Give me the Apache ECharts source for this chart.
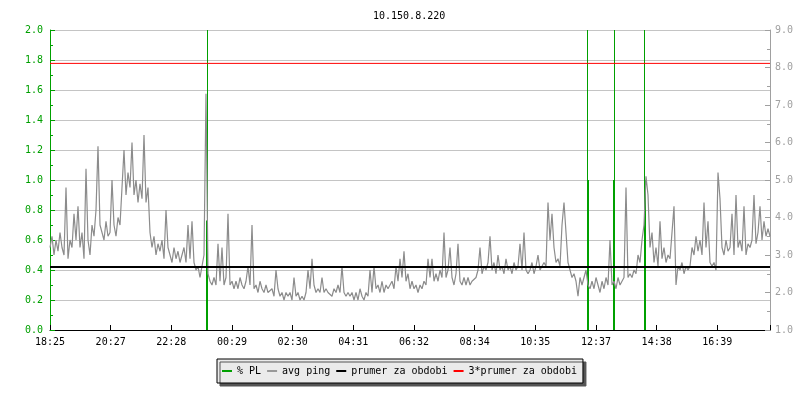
<!DOCTYPE html>
<html>
<head>
<meta charset="utf-8">
<script src="https://cdn.jsdelivr.net/npm/echarts@6/dist/echarts.min.js"></script>
<style>
  html, body { margin: 0; padding: 0; background: #fff; }
  #chart { width: 800px; height: 400px; }
</style>
</head>
<body>
<div id="chart"></div>
<script>
// x values are seconds since 18:25
const tickLabels = ['18:25', '20:27', '22:28', '00:29', '02:30', '04:31', '06:32', '08:34', '10:35', '12:37', '14:38', '16:39']
const tickStep = 7280
const rangeEnd = 86400

// avg ping (ms), one sample every 4 minutes
const pingStep = 240
const avgPing = [
  3.2, 3.5, 3.0, 3.4, 3.1, 3.6, 3.2, 3.0, 4.8, 2.9,
  3.4, 3.2, 4.1, 3.4, 4.3, 3.2, 3.6, 2.9, 5.3, 3.4,
  3.0, 3.8, 3.5, 4.2, 5.9, 3.8, 3.6, 3.4, 3.9, 3.5,
  3.6, 5.0, 3.8, 3.5, 4.0, 3.8, 4.8, 5.8, 4.6, 5.2,
  4.8, 6.0, 4.6, 5.0, 4.4, 4.9, 4.5, 6.2, 4.4, 4.8,
  3.6, 3.2, 3.5, 3.0, 3.3, 3.1, 3.4, 2.9, 4.2, 3.2,
  3.0, 2.8, 3.2, 2.9, 3.1, 2.8, 3.0, 3.2, 2.8, 3.8,
  2.9, 3.9, 2.8, 2.6, 2.7, 2.4, 2.7, 3.0, 7.3, 2.5,
  2.3, 2.2, 2.4, 2.2, 3.3, 2.3, 3.2, 2.2, 2.4, 4.1,
  2.2, 2.3, 2.1, 2.3, 2.1, 2.4, 2.2, 2.1, 2.3, 2.7,
  2.2, 3.8, 2.1, 2.2, 2.0, 2.3, 2.1, 2.0, 2.2, 2.0,
  2.0, 2.1, 1.9, 2.6, 2.1, 1.9, 2.0, 1.8, 2.0, 1.9,
  2.0, 1.8, 2.4, 1.9, 2.0, 1.8, 1.9, 1.8, 2.0, 2.6,
  2.1, 2.9, 2.2, 2.0, 2.1, 2.0, 2.4, 2.0, 2.1, 2.0,
  2.0, 1.9, 2.1, 2.0, 2.2, 2.0, 2.7, 2.0, 1.9, 2.0,
  1.9, 2.0, 1.8, 2.0, 1.8, 2.1, 1.9, 1.8, 2.0, 1.9,
  2.6, 2.0, 2.7, 2.1, 2.2, 2.0, 2.3, 2.0, 2.2, 2.1,
  2.2, 2.3, 2.1, 2.7, 2.3, 2.9, 2.4, 3.1, 2.3, 2.5,
  2.1, 2.3, 2.1, 2.2, 2.0, 2.2, 2.1, 2.3, 2.2, 2.9,
  2.4, 2.9, 2.3, 2.5, 2.3, 2.6, 2.4, 3.6, 2.4, 2.6,
  3.2, 2.4, 2.2, 2.5, 3.3, 2.3, 2.2, 2.4, 2.2, 2.4,
  2.2, 2.3, 2.3, 2.4, 2.6, 3.2, 2.5, 2.7, 2.6, 2.8,
  3.5, 2.6, 2.8, 2.5, 3.0, 2.6, 2.7, 2.5, 2.9, 2.6,
  2.7, 2.5, 2.8, 2.6, 2.7, 3.3, 2.6, 3.6, 2.6, 2.5,
  2.6, 2.8, 2.5, 2.7, 3.0, 2.6, 2.7, 2.8, 2.7, 4.4,
  3.4, 4.1, 3.2, 2.8, 2.9, 2.7, 3.8, 4.4, 3.6, 2.8,
  2.6, 2.4, 2.5, 2.3, 1.9, 2.4, 2.2, 2.4, 2.6, 2.2,
  2.1, 2.3, 2.1, 2.4, 2.2, 2.0, 2.3, 2.1, 2.4, 2.2,
  3.4, 2.2, 2.3, 2.1, 2.4, 2.2, 2.3, 2.4, 4.8, 2.4,
  2.5, 2.4, 2.6, 2.5, 3.0, 2.8, 3.4, 3.8, 5.1, 4.6,
  3.2, 3.6, 2.8, 3.2, 2.7, 3.9, 2.9, 3.2, 2.8, 3.0,
  2.9, 3.6, 4.3, 2.2, 2.7, 2.6, 2.8, 2.5, 2.7, 2.6,
  2.7, 3.2, 3.0, 3.5, 3.1, 3.4, 3.0, 4.4, 3.2, 3.9,
  2.8, 2.7, 2.8, 2.6, 5.2, 4.5, 3.2, 3.0, 3.4, 3.1,
  3.2, 4.1, 3.0, 4.6, 3.2, 3.4, 3.1, 4.3, 3.0, 3.3,
  3.2, 3.4, 4.6, 3.3, 3.6, 4.3, 3.4, 3.9, 3.5, 3.7,
  3.5
]

// packet loss (%) events
const plTimes = [18780, 18900, 64500, 64620, 67620, 67740, 71340, 71460]
const plValues = [0.73, 100, 100, 1.0, 1.0, 100, 100, 1.0]

const meanPing = 2.68
const tripleMean = 8.11

const font = 'DejaVu Sans Mono'
const green = '#00a000'
const grey = '#a0a0a0'

const chart = echarts.init(document.getElementById('chart'))

chart.setOption({
  animation: false,
  backgroundColor: '#fff',
  textStyle: { fontFamily: font, fontSize: 10 },
  title: {
    text: '10.150.8.220',
    left: 368,
    top: 6,
    textStyle: { fontFamily: font, fontSize: 10, fontWeight: 'normal', color: '#000' }
  },
  legend: {
    left: 217,
    top: 359,
    padding: [7, 6, 7, 5],
    itemGap: 6,
    itemWidth: 10,
    itemHeight: 2,
    icon: 'rect',
    backgroundColor: '#ebebeb',
    borderColor: '#000',
    borderWidth: 1,
    shadowColor: '#555',
    shadowBlur: 0,
    shadowOffsetX: 3,
    shadowOffsetY: 3,
    textStyle: { fontFamily: font, fontSize: 10, color: '#000' },
    data: ['% PL', 'avg ping', 'prumer za obdobi', '3*prumer za obdobi']
  },
  grid: { left: 50, right: 30, top: 30, bottom: 70 },
  xAxis: {
    type: 'value',
    min: 0,
    max: rangeEnd,
    interval: tickStep,
    axisLine: { lineStyle: { color: '#000', width: 1 } },
    axisTick: { inside: true, length: 5, lineStyle: { color: '#000' } },
    axisLabel: {
      margin: 7,
      color: '#000',
      fontFamily: font,
      fontSize: 10,
      formatter: (v, i) => tickLabels[i] || ''
    },
    splitLine: { show: false }
  },
  yAxis: [
    {
      type: 'value',
      min: 0,
      max: 2,
      interval: 0.2,
      axisLine: { show: true, lineStyle: { color: green } },
      axisTick: { show: true, inside: true, length: 5, lineStyle: { color: green } },
      minorTick: { show: true, splitNumber: 2, length: 3, lineStyle: { color: green } },
      axisLabel: {
        margin: 7,
        color: green,
        fontFamily: font,
        fontSize: 10,
        formatter: v => v.toFixed(1)
      },
      splitLine: { show: true, lineStyle: { color: '#c4c4c4', width: 1 } }
    },
    {
      type: 'value',
      min: 1,
      max: 9,
      interval: 1,
      position: 'right',
      axisLine: { show: true, lineStyle: { color: grey } },
      axisTick: { show: true, inside: true, length: 5, lineStyle: { color: grey } },
      minorTick: { show: true, splitNumber: 2, length: 3, lineStyle: { color: grey } },
      axisLabel: {
        margin: 5,
        color: grey,
        fontFamily: font,
        fontSize: 10,
        formatter: v => v.toFixed(1)
      },
      splitLine: { show: false }
    }
  ],
  series: [
    {
      name: '% PL',
      type: 'bar',
      yAxisIndex: 0,
      barWidth: 1,
      clip: true,
      itemStyle: { color: green },
      data: plTimes.map((t, i) => [t, plValues[i]])
    },
    {
      name: 'avg ping',
      type: 'line',
      yAxisIndex: 1,
      symbol: 'none',
      clip: true,
      lineStyle: { color: '#8c8c8c', width: 1.2 },
      itemStyle: { color: '#999999' },
      data: avgPing.map((v, i) => [i * pingStep, v])
    },
    {
      name: 'prumer za obdobi',
      type: 'line',
      yAxisIndex: 1,
      symbol: 'none',
      lineStyle: { color: '#000', width: 2 },
      itemStyle: { color: '#000' },
      data: [[0, meanPing], [rangeEnd, meanPing]]
    },
    {
      name: '3*prumer za obdobi',
      type: 'line',
      yAxisIndex: 1,
      symbol: 'none',
      lineStyle: { color: '#ff0000', width: 1 },
      itemStyle: { color: '#ff0000' },
      data: [[0, tripleMean], [rangeEnd, tripleMean]]
    }
  ]
})
</script>
</body>
</html>
